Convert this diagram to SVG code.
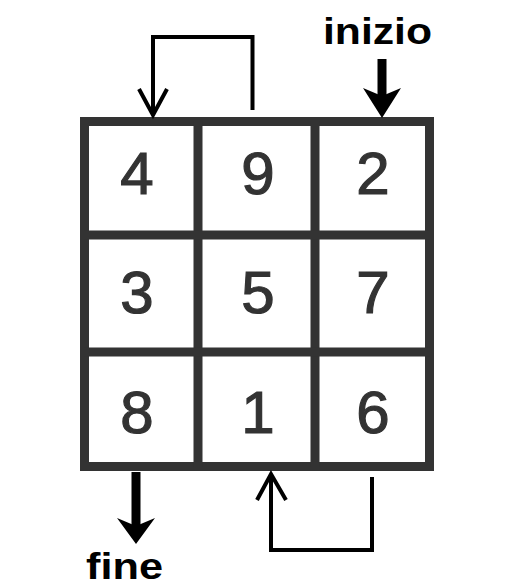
<svg xmlns="http://www.w3.org/2000/svg" width="523" height="588" viewBox="0 0 523 588">
<style>
.grid{fill:none;stroke:#333;stroke-width:9}
.num{font-family:"Liberation Sans",Arial,sans-serif;font-size:60px;fill:#333;stroke:#333;stroke-width:1.2;text-anchor:middle}
.lbl{font-family:"Liberation Sans",Arial,sans-serif;font-weight:bold;font-size:37px;fill:#000}
.thin{fill:none;stroke:#000;stroke-width:4}
.thick{fill:none;stroke:#000;stroke-width:9}
</style>
<rect width="523" height="588" fill="#fff"/>
<g id="grid">
<rect class="grid" x="84.5" y="121.5" width="345" height="345" fill="#fff"/>
<line class="grid" x1="198" y1="121" x2="198" y2="467"/>
<line class="grid" x1="315" y1="121" x2="315" y2="467"/>
<line class="grid" x1="84" y1="235" x2="430" y2="235"/>
<line class="grid" x1="84" y1="352" x2="430" y2="352"/>
</g>
<g id="c4"><text class="num" x="137" y="194">4</text></g>
<g id="c9"><text class="num" x="258" y="194">9</text></g>
<g id="c2"><text class="num" x="373" y="194">2</text></g>
<g id="c3"><text class="num" x="137" y="313">3</text></g>
<g id="c5"><text class="num" x="258" y="313">5</text></g>
<g id="c7"><text class="num" x="373" y="313">7</text></g>
<g id="c8"><text class="num" x="137" y="433">8</text></g>
<g id="c1"><text class="num" x="258" y="433">1</text></g>
<g id="c6"><text class="num" x="373" y="433">6</text></g>
<g id="inizio"><text class="lbl" x="323" y="44" textLength="109" lengthAdjust="spacingAndGlyphs">inizio</text></g>
<g id="fine"><text class="lbl" x="86" y="579" font-size="34" textLength="77" lengthAdjust="spacingAndGlyphs">fine</text></g>
<g id="connectors">
<polyline class="thin" points="252.5,110 252.5,37 153,37 153,115"/>
<polyline class="thin" points="139,89 153,115 167,89"/>
<line class="thick" x1="382" y1="59" x2="382" y2="100"/>
<polygon points="363,88 382,96 401,88 382,118" fill="#000"/>
<polyline class="thin" points="372,477 372,550 271,550 271,475"/>
<polyline class="thin" points="257,500 271,474 286,500"/>
<line class="thick" x1="136" y1="472" x2="136" y2="528"/>
<polygon points="117,518 136,526 155,518 136,544" fill="#000"/>
</g>
</svg>
